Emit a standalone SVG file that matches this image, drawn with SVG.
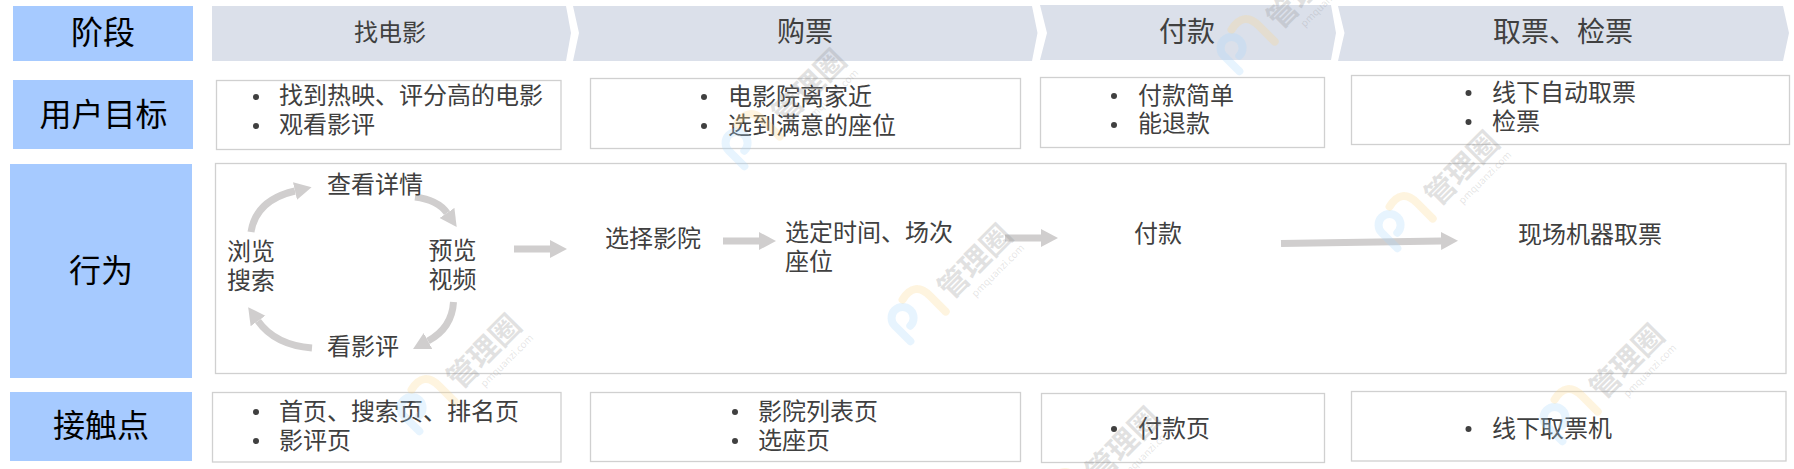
<svg xmlns="http://www.w3.org/2000/svg" width="1794" height="469" viewBox="0 0 1794 469">
<style>
text{font-family:"Noto Sans CJK SC","Noto Sans",sans-serif;dominant-baseline:central;fill:#404040;font-size:24px}
.hd{fill:#a6caff}
.lb{fill:#000;font-size:32px;text-anchor:middle}
.ch{fill:#dbe0ea}
.cl{font-size:28px;text-anchor:middle}
.c0{text-anchor:middle}
.box{fill:#fff;stroke:#d0d0d0;stroke-width:1.3}
.bu{fill:#404040}
.ar{fill:none;stroke:#d0cece;stroke-width:7;marker-end:url(#ah)}
.wb{fill:none;stroke:#a9d6fa;stroke-opacity:.28;stroke-width:8;stroke-linecap:round}
.wy{fill:none;stroke:#fbd98c;stroke-opacity:.28;stroke-width:8;stroke-linecap:round}
.wt{fill:#8a8a8a;fill-opacity:.25;font-size:30px;font-weight:700;text-anchor:middle}
.ws{fill:#8a8a8a;fill-opacity:.22;font-size:10px;text-anchor:middle}
</style>
<defs>
<marker id="ah" markerUnits="userSpaceOnUse" markerWidth="18" markerHeight="20" refX="0" refY="10" orient="auto"><path d="M0 1L17 10L0 19Z" fill="#d0cece"/></marker>
<g id="wm" transform="rotate(-45)">
<path class="wb" d="M-24 16V-6A11 11 0 1 1 -13 5"/>
<path class="wy" d="M0 -19Q22 -24 22 -2V20"/>
<text class="wt" x="78" y="3">管理圈</text>
<text class="ws" x="88" y="27">pmquanzi.com</text>
</g>
</defs>
<g id="row-headers">
<g id="h-stage"><rect class="hd" x="13" y="6" width="180" height="55"/><text class="lb" x="103" y="29.500">阶段</text></g>
<g id="h-goal"><rect class="hd" x="13" y="80" width="180" height="69"/><text class="lb" x="103.500" y="111.500">用户目标</text></g>
<g id="h-action"><rect class="hd" x="10" y="164" width="182" height="214"/><text class="lb" x="101" y="267.500">行为</text></g>
<g id="h-touch"><rect class="hd" x="10" y="392" width="182" height="69"/><text class="lb" x="101" y="423">接触点</text></g>
</g>
<g id="stages">
<g id="s1"><path class="ch" d="M212 6H566L571 33L566 61H212Z"/><text class="c0" x="390" y="30">找电影</text></g>
<g id="s2"><path class="ch" d="M573 6H1032L1037.500 33L1032 61H573L579 33Z"/><text class="cl" x="805" y="29.500">购票</text></g>
<g id="s3"><path class="ch" d="M1040 5H1331L1336 33L1331 60H1040L1047 33Z"/><text class="cl" x="1187" y="29.500">付款</text></g>
<g id="s4"><path class="ch" d="M1338 6H1783L1789 33L1783 61H1338L1344.500 33Z"/><text class="cl" x="1563" y="29.500">取票、检票</text></g>
</g>
<g id="goals">
<g id="g1"><rect class="box" x="216.500" y="80.500" width="344.500" height="69"/><circle class="bu" cx="256" cy="97" r="3"/><circle class="bu" cx="256" cy="126" r="3"/><text x="279" y="93.500">找到热映、评分高的电影</text><text x="279" y="122.500">观看影评</text></g>
<g id="g2"><rect class="box" x="590.500" y="78.500" width="430" height="70"/><circle class="bu" cx="704" cy="97" r="3"/><circle class="bu" cx="704" cy="126" r="3"/><text x="728" y="94.500">电影院离家近</text><text x="728" y="123">选到满意的座位</text></g>
<g id="g3"><rect class="box" x="1040.500" y="77.500" width="284" height="70"/><circle class="bu" cx="1114" cy="96" r="3"/><circle class="bu" cx="1114" cy="125" r="3"/><text x="1138" y="93">付款简单</text><text x="1138" y="121.500">能退款</text></g>
<g id="g4"><rect class="box" x="1351.500" y="75.500" width="438" height="69"/><circle class="bu" cx="1468.500" cy="93" r="3"/><circle class="bu" cx="1468.500" cy="122" r="3"/><text x="1492" y="90">线下自动取票</text><text x="1492" y="119">检票</text></g>
</g>
<g id="action-frame"><rect class="box" x="215.500" y="163.500" width="1570.500" height="210"/></g>
<g id="connectors">
<path class="ar" d="M251 232Q256 200 295 191"/>
<path class="ar" d="M415 197Q438 200 447 213"/>
<path class="ar" d="M453.500 302Q452 328 428 341"/>
<path class="ar" d="M312 348Q275 345 258 321"/>
<path class="ar" d="M514 249H550"/>
<path class="ar" d="M723 241H759"/>
<path class="ar" d="M1005 238H1041"/>
<path class="ar" d="M1281 243.500L1441 241"/>
</g>
<g id="actions">
<g id="a1"><text x="327" y="182.500">查看详情</text></g>
<g id="a2"><text x="227" y="249.500">浏览</text><text x="227" y="278.500">搜索</text></g>
<g id="a3"><text x="428.500" y="248">预览</text><text x="428.500" y="277.500">视频</text></g>
<g id="a4"><text x="327" y="344.500">看影评</text></g>
<g id="a5"><text x="605" y="236.500">选择影院</text></g>
<g id="a6"><text x="785" y="230.500">选定时间、场次</text><text x="785" y="259.500">座位</text></g>
<g id="a7"><text x="1134" y="231.500">付款</text></g>
<g id="a8"><text x="1518" y="232.500">现场机器取票</text></g>
</g>
<g id="touchpoints">
<g id="t1"><rect class="box" x="212.500" y="392.500" width="348.500" height="69.500"/><circle class="bu" cx="256" cy="412" r="3"/><circle class="bu" cx="256" cy="441" r="3"/><text x="279" y="409">首页、搜索页、排名页</text><text x="279" y="438">影评页</text></g>
<g id="t2"><rect class="box" x="590.500" y="392.500" width="430" height="69"/><circle class="bu" cx="735" cy="412" r="3"/><circle class="bu" cx="735" cy="441" r="3"/><text x="758" y="409">影院列表页</text><text x="758" y="438">选座页</text></g>
<g id="t3"><rect class="box" x="1041.500" y="393.500" width="283" height="69"/><circle class="bu" cx="1114" cy="429" r="3"/><text x="1138" y="426">付款页</text></g>
<g id="t4"><rect class="box" x="1351.500" y="391.500" width="434.500" height="69.500"/><circle class="bu" cx="1468.500" cy="429" r="3"/><text x="1492" y="426">线下取票机</text></g>
</g>
<g id="watermarks">
<use href="#wm" transform="translate(750 138)"/>
<use href="#wm" transform="translate(1403 220)"/>
<use href="#wm" transform="translate(425 403)"/>
<use href="#wm" transform="translate(916 313)"/>
<use href="#wm" transform="translate(1568 413)"/>
<use href="#wm" transform="translate(1064 496)"/>
<use href="#wm" transform="translate(1245 43)"/>
</g>
</svg>
